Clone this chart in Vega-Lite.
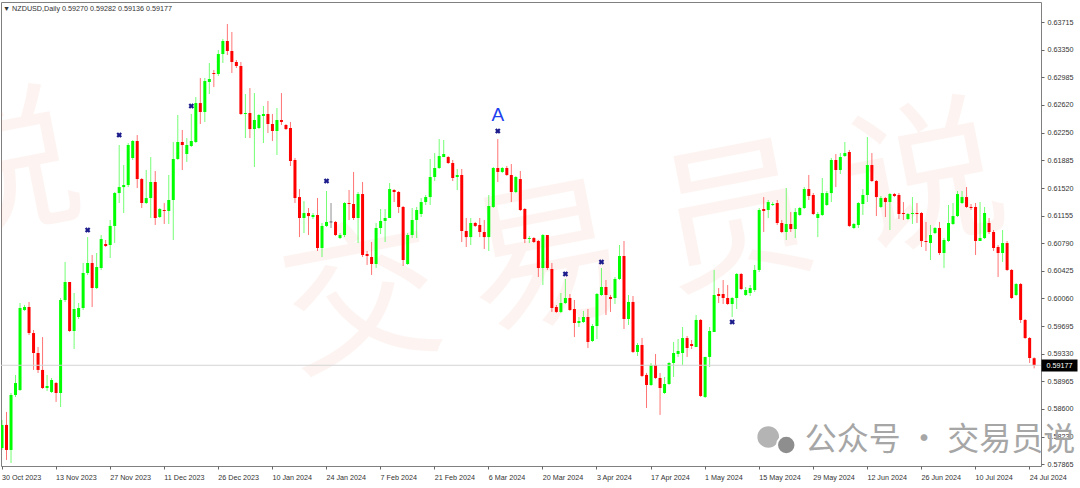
{
"$schema":"https://vega.github.io/schema/vega-lite/v6.json",
"width":1040,"height":464,
"autosize":{"type":"none"},
"padding":{"left":1,"top":2,"right":39,"bottom":22},
"background":"white",
"config":{"view":{"stroke":"#808080","strokeWidth":1},"font":"Liberation Sans"},
"title":{"text":"▼ NZDUSD,Daily  0.59270 0.59282 0.59136 0.59177","anchor":"start","frame":"group","offset":-10,"fontSize":7.2,"fontWeight":"normal","color":"#333333","font":"Liberation Sans","dx":2},
"datasets":{
"k":[
{"d":"2023-10-30","o":0.58083,"h":0.58454,"l":0.58057,"c":0.58388},
{"d":"2023-10-31","o":0.58388,"h":0.58560,"l":0.57925,"c":0.58057},
{"d":"2023-11-01","o":0.58057,"h":0.58810,"l":0.57885,"c":0.58784},
{"d":"2023-11-02","o":0.58784,"h":0.59049,"l":0.58757,"c":0.58942},
{"d":"2023-11-03","o":0.58850,"h":0.60000,"l":0.58837,"c":0.59934},
{"d":"2023-11-05","o":0.59908,"h":0.59974,"l":0.59895,"c":0.59947},
{"d":"2023-11-06","o":0.59947,"h":0.60014,"l":0.59577,"c":0.59603},
{"d":"2023-11-07","o":0.59603,"h":0.59643,"l":0.59115,"c":0.59339},
{"d":"2023-11-08","o":0.59339,"h":0.59418,"l":0.59075,"c":0.59115},
{"d":"2023-11-09","o":0.59115,"h":0.59550,"l":0.58863,"c":0.58876},
{"d":"2023-11-10","o":0.58876,"h":0.59049,"l":0.58837,"c":0.58903},
{"d":"2023-11-12","o":0.58824,"h":0.59009,"l":0.58810,"c":0.58982},
{"d":"2023-11-13","o":0.58942,"h":0.58956,"l":0.58692,"c":0.58810},
{"d":"2023-11-14","o":0.58810,"h":0.60066,"l":0.58625,"c":0.60040},
{"d":"2023-11-15","o":0.60040,"h":0.60543,"l":0.60014,"c":0.60278},
{"d":"2023-11-16","o":0.60278,"h":0.60278,"l":0.59617,"c":0.59630},
{"d":"2023-11-17","o":0.59630,"h":0.60132,"l":0.59392,"c":0.59921},
{"d":"2023-11-19","o":0.59815,"h":0.60000,"l":0.59789,"c":0.59934},
{"d":"2023-11-20","o":0.59934,"h":0.60529,"l":0.59908,"c":0.60397},
{"d":"2023-11-21","o":0.60397,"h":0.60872,"l":0.60371,"c":0.60529},
{"d":"2023-11-22","o":0.60529,"h":0.60635,"l":0.59947,"c":0.60198},
{"d":"2023-11-23","o":0.60198,"h":0.60661,"l":0.60185,"c":0.60476},
{"d":"2023-11-24","o":0.60463,"h":0.60899,"l":0.60437,"c":0.60846},
{"d":"2023-11-26","o":0.60780,"h":0.60833,"l":0.60741,"c":0.60754},
{"d":"2023-11-27","o":0.60767,"h":0.61098,"l":0.60595,"c":0.61019},
{"d":"2023-11-28","o":0.61019,"h":0.61468,"l":0.60793,"c":0.61454},
{"d":"2023-11-29","o":0.61454,"h":0.62089,"l":0.61322,"c":0.61533},
{"d":"2023-11-30","o":0.61533,"h":0.61825,"l":0.61190,"c":0.61560},
{"d":"2023-12-01","o":0.61560,"h":0.62115,"l":0.61533,"c":0.62089},
{"d":"2023-12-03","o":0.61917,"h":0.62155,"l":0.61891,"c":0.62142},
{"d":"2023-12-04","o":0.62142,"h":0.62221,"l":0.61520,"c":0.61639},
{"d":"2023-12-05","o":0.61639,"h":0.61653,"l":0.61256,"c":0.61322},
{"d":"2023-12-06","o":0.61322,"h":0.61759,"l":0.61309,"c":0.61388},
{"d":"2023-12-07","o":0.61388,"h":0.61930,"l":0.61124,"c":0.61600},
{"d":"2023-12-08","o":0.61600,"h":0.61746,"l":0.61032,"c":0.61124},
{"d":"2023-12-10","o":0.61137,"h":0.61256,"l":0.61124,"c":0.61243},
{"d":"2023-12-11","o":0.61230,"h":0.61322,"l":0.61045,"c":0.61217},
{"d":"2023-12-12","o":0.61217,"h":0.61693,"l":0.61045,"c":0.61362},
{"d":"2023-12-13","o":0.61362,"h":0.62129,"l":0.60833,"c":0.61904},
{"d":"2023-12-14","o":0.61904,"h":0.62486,"l":0.61891,"c":0.62129},
{"d":"2023-12-15","o":0.62129,"h":0.62287,"l":0.61759,"c":0.62089},
{"d":"2023-12-17","o":0.61970,"h":0.62181,"l":0.61865,"c":0.62089},
{"d":"2023-12-18","o":0.62076,"h":0.62499,"l":0.62062,"c":0.62142},
{"d":"2023-12-19","o":0.62129,"h":0.62723,"l":0.62115,"c":0.62644},
{"d":"2023-12-20","o":0.62644,"h":0.62975,"l":0.62367,"c":0.62526},
{"d":"2023-12-21","o":0.62526,"h":0.62975,"l":0.62394,"c":0.62935},
{"d":"2023-12-22","o":0.62922,"h":0.63173,"l":0.62763,"c":0.62962},
{"d":"2023-12-24","o":0.63041,"h":0.63081,"l":0.62855,"c":0.63028},
{"d":"2023-12-26","o":0.63028,"h":0.63345,"l":0.63002,"c":0.63292},
{"d":"2023-12-27","o":0.63292,"h":0.63490,"l":0.63173,"c":0.63464},
{"d":"2023-12-28","o":0.63464,"h":0.63689,"l":0.63279,"c":0.63332},
{"d":"2023-12-29","o":0.63332,"h":0.63583,"l":0.63041,"c":0.63187},
{"d":"2023-12-31","o":0.63187,"h":0.63213,"l":0.63107,"c":0.63134},
{"d":"2024-01-02","o":0.63134,"h":0.63187,"l":0.62486,"c":0.62499},
{"d":"2024-01-03","o":0.62499,"h":0.62763,"l":0.62181,"c":0.62512},
{"d":"2024-01-04","o":0.62512,"h":0.62842,"l":0.62181,"c":0.62300},
{"d":"2024-01-05","o":0.62300,"h":0.62776,"l":0.61798,"c":0.62420},
{"d":"2024-01-07","o":0.62314,"h":0.62499,"l":0.62300,"c":0.62486},
{"d":"2024-01-08","o":0.62473,"h":0.62605,"l":0.62115,"c":0.62499},
{"d":"2024-01-09","o":0.62499,"h":0.62671,"l":0.62247,"c":0.62367},
{"d":"2024-01-10","o":0.62367,"h":0.62499,"l":0.62142,"c":0.62274},
{"d":"2024-01-11","o":0.62274,"h":0.62579,"l":0.61957,"c":0.62420},
{"d":"2024-01-12","o":0.62420,"h":0.62776,"l":0.62354,"c":0.62394},
{"d":"2024-01-14","o":0.62354,"h":0.62367,"l":0.62287,"c":0.62300},
{"d":"2024-01-15","o":0.62314,"h":0.62394,"l":0.61812,"c":0.61878},
{"d":"2024-01-16","o":0.61891,"h":0.61917,"l":0.61322,"c":0.61388},
{"d":"2024-01-17","o":0.61401,"h":0.61507,"l":0.60872,"c":0.61124},
{"d":"2024-01-18","o":0.61124,"h":0.61348,"l":0.60925,"c":0.61190},
{"d":"2024-01-19","o":0.61190,"h":0.61256,"l":0.60899,"c":0.61150},
{"d":"2024-01-21","o":0.61137,"h":0.61190,"l":0.61111,"c":0.61164},
{"d":"2024-01-22","o":0.61164,"h":0.61388,"l":0.60688,"c":0.60727},
{"d":"2024-01-23","o":0.60727,"h":0.61058,"l":0.60608,"c":0.61019},
{"d":"2024-01-24","o":0.61019,"h":0.61481,"l":0.61005,"c":0.61072},
{"d":"2024-01-25","o":0.61072,"h":0.61322,"l":0.60992,"c":0.61072},
{"d":"2024-01-26","o":0.61072,"h":0.61085,"l":0.60886,"c":0.60899},
{"d":"2024-01-28","o":0.60859,"h":0.60925,"l":0.60846,"c":0.60899},
{"d":"2024-01-29","o":0.60899,"h":0.61335,"l":0.60872,"c":0.61322},
{"d":"2024-01-30","o":0.61322,"h":0.61494,"l":0.61098,"c":0.61309},
{"d":"2024-01-31","o":0.61309,"h":0.61733,"l":0.61098,"c":0.61124},
{"d":"2024-02-01","o":0.61124,"h":0.61468,"l":0.60793,"c":0.61441},
{"d":"2024-02-02","o":0.61441,"h":0.61600,"l":0.60608,"c":0.60635},
{"d":"2024-02-04","o":0.60648,"h":0.60688,"l":0.60503,"c":0.60622},
{"d":"2024-02-05","o":0.60608,"h":0.60807,"l":0.60371,"c":0.60516},
{"d":"2024-02-06","o":0.60516,"h":0.61058,"l":0.60463,"c":0.60992},
{"d":"2024-02-07","o":0.60992,"h":0.61243,"l":0.60912,"c":0.61085},
{"d":"2024-02-08","o":0.61085,"h":0.61243,"l":0.60807,"c":0.61124},
{"d":"2024-02-09","o":0.61124,"h":0.61586,"l":0.61124,"c":0.61507},
{"d":"2024-02-11","o":0.61494,"h":0.61507,"l":0.61335,"c":0.61468},
{"d":"2024-02-12","o":0.61468,"h":0.61481,"l":0.61190,"c":0.61270},
{"d":"2024-02-13","o":0.61270,"h":0.61283,"l":0.60490,"c":0.60569},
{"d":"2024-02-14","o":0.60516,"h":0.60925,"l":0.60503,"c":0.60899},
{"d":"2024-02-15","o":0.60899,"h":0.61256,"l":0.60859,"c":0.61098},
{"d":"2024-02-16","o":0.61098,"h":0.61270,"l":0.60859,"c":0.61230},
{"d":"2024-02-18","o":0.61177,"h":0.61388,"l":0.61137,"c":0.61335},
{"d":"2024-02-19","o":0.61335,"h":0.61428,"l":0.61296,"c":0.61401},
{"d":"2024-02-20","o":0.61401,"h":0.61904,"l":0.61296,"c":0.61666},
{"d":"2024-02-21","o":0.61666,"h":0.61983,"l":0.61613,"c":0.61785},
{"d":"2024-02-22","o":0.61785,"h":0.62168,"l":0.61772,"c":0.61944},
{"d":"2024-02-23","o":0.61930,"h":0.62155,"l":0.61930,"c":0.61970},
{"d":"2024-02-25","o":0.61930,"h":0.61944,"l":0.61838,"c":0.61851},
{"d":"2024-02-26","o":0.61851,"h":0.61891,"l":0.61613,"c":0.61653},
{"d":"2024-02-27","o":0.61666,"h":0.61772,"l":0.61494,"c":0.61693},
{"d":"2024-02-28","o":0.61693,"h":0.61772,"l":0.60807,"c":0.60952},
{"d":"2024-02-29","o":0.60952,"h":0.61124,"l":0.60741,"c":0.60872},
{"d":"2024-03-01","o":0.60872,"h":0.61124,"l":0.60767,"c":0.61058},
{"d":"2024-03-03","o":0.61058,"h":0.61072,"l":0.61005,"c":0.61019},
{"d":"2024-03-04","o":0.61032,"h":0.61124,"l":0.60872,"c":0.60939},
{"d":"2024-03-05","o":0.60939,"h":0.61098,"l":0.60714,"c":0.60872},
{"d":"2024-03-06","o":0.60872,"h":0.61428,"l":0.60688,"c":0.61283},
{"d":"2024-03-07","o":0.61270,"h":0.61798,"l":0.61256,"c":0.61785},
{"d":"2024-03-08","o":0.61785,"h":0.62168,"l":0.61600,"c":0.61733},
{"d":"2024-03-10","o":0.61733,"h":0.61798,"l":0.61719,"c":0.61785},
{"d":"2024-03-11","o":0.61785,"h":0.61812,"l":0.61680,"c":0.61693},
{"d":"2024-03-12","o":0.61693,"h":0.61838,"l":0.61335,"c":0.61468},
{"d":"2024-03-13","o":0.61468,"h":0.61680,"l":0.61454,"c":0.61666},
{"d":"2024-03-14","o":0.61639,"h":0.61746,"l":0.61217,"c":0.61230},
{"d":"2024-03-15","o":0.61243,"h":0.61256,"l":0.60793,"c":0.60846},
{"d":"2024-03-17","o":0.60846,"h":0.60886,"l":0.60793,"c":0.60859},
{"d":"2024-03-18","o":0.60859,"h":0.60872,"l":0.60793,"c":0.60807},
{"d":"2024-03-19","o":0.60820,"h":0.60833,"l":0.60344,"c":0.60463},
{"d":"2024-03-20","o":0.60463,"h":0.60912,"l":0.60238,"c":0.60899},
{"d":"2024-03-21","o":0.60899,"h":0.60899,"l":0.60437,"c":0.60463},
{"d":"2024-03-22","o":0.60450,"h":0.60529,"l":0.59882,"c":0.59934},
{"d":"2024-03-24","o":0.59947,"h":0.59974,"l":0.59868,"c":0.59882},
{"d":"2024-03-25","o":0.59882,"h":0.60132,"l":0.59868,"c":0.60000},
{"d":"2024-03-26","o":0.60000,"h":0.60318,"l":0.59987,"c":0.60066},
{"d":"2024-03-27","o":0.60066,"h":0.60119,"l":0.59895,"c":0.59908},
{"d":"2024-03-28","o":0.59921,"h":0.60040,"l":0.59550,"c":0.59736},
{"d":"2024-03-29","o":0.59736,"h":0.59815,"l":0.59683,"c":0.59762},
{"d":"2024-03-31","o":0.59749,"h":0.59895,"l":0.59736,"c":0.59815},
{"d":"2024-04-01","o":0.59815,"h":0.59921,"l":0.59405,"c":0.59485},
{"d":"2024-04-02","o":0.59498,"h":0.59723,"l":0.59485,"c":0.59696},
{"d":"2024-04-03","o":0.59696,"h":0.60132,"l":0.59524,"c":0.60119},
{"d":"2024-04-04","o":0.60106,"h":0.60463,"l":0.60093,"c":0.60212},
{"d":"2024-04-05","o":0.60212,"h":0.60304,"l":0.59842,"c":0.60106},
{"d":"2024-04-07","o":0.60079,"h":0.60106,"l":0.59882,"c":0.60053},
{"d":"2024-04-08","o":0.60066,"h":0.60344,"l":0.59987,"c":0.60318},
{"d":"2024-04-09","o":0.60318,"h":0.60767,"l":0.60304,"c":0.60622},
{"d":"2024-04-10","o":0.60622,"h":0.60820,"l":0.59656,"c":0.59789},
{"d":"2024-04-11","o":0.59789,"h":0.60106,"l":0.59709,"c":0.60014},
{"d":"2024-04-12","o":0.60014,"h":0.60093,"l":0.59339,"c":0.59353},
{"d":"2024-04-14","o":0.59353,"h":0.59471,"l":0.59300,"c":0.59445},
{"d":"2024-04-15","o":0.59445,"h":0.59537,"l":0.59022,"c":0.59036},
{"d":"2024-04-16","o":0.59049,"h":0.59075,"l":0.58612,"c":0.58916},
{"d":"2024-04-17","o":0.58916,"h":0.59207,"l":0.58903,"c":0.59181},
{"d":"2024-04-18","o":0.59181,"h":0.59326,"l":0.58995,"c":0.59009},
{"d":"2024-04-19","o":0.59009,"h":0.59075,"l":0.58520,"c":0.58876},
{"d":"2024-04-21","o":0.58810,"h":0.59022,"l":0.58797,"c":0.58929},
{"d":"2024-04-22","o":0.58929,"h":0.59221,"l":0.58916,"c":0.59207},
{"d":"2024-04-23","o":0.59207,"h":0.59485,"l":0.59022,"c":0.59339},
{"d":"2024-04-24","o":0.59326,"h":0.59524,"l":0.59287,"c":0.59366},
{"d":"2024-04-25","o":0.59339,"h":0.59683,"l":0.59181,"c":0.59537},
{"d":"2024-04-26","o":0.59537,"h":0.59564,"l":0.59287,"c":0.59405},
{"d":"2024-04-28","o":0.59458,"h":0.59511,"l":0.59392,"c":0.59432},
{"d":"2024-04-29","o":0.59418,"h":0.59842,"l":0.59418,"c":0.59776},
{"d":"2024-04-30","o":0.59776,"h":0.59789,"l":0.58757,"c":0.58771},
{"d":"2024-05-01","o":0.58757,"h":0.59287,"l":0.58744,"c":0.59287},
{"d":"2024-05-02","o":0.59287,"h":0.59683,"l":0.59154,"c":0.59630},
{"d":"2024-05-03","o":0.59617,"h":0.60437,"l":0.59617,"c":0.60106},
{"d":"2024-05-05","o":0.60119,"h":0.60198,"l":0.60000,"c":0.60093},
{"d":"2024-05-06","o":0.60119,"h":0.60304,"l":0.59987,"c":0.60066},
{"d":"2024-05-07","o":0.60066,"h":0.60238,"l":0.59974,"c":0.59987},
{"d":"2024-05-08","o":0.59987,"h":0.60079,"l":0.59815,"c":0.60066},
{"d":"2024-05-09","o":0.60066,"h":0.60397,"l":0.59921,"c":0.60384},
{"d":"2024-05-10","o":0.60384,"h":0.60397,"l":0.60172,"c":0.60185},
{"d":"2024-05-12","o":0.60106,"h":0.60212,"l":0.60093,"c":0.60172},
{"d":"2024-05-13","o":0.60132,"h":0.60238,"l":0.60093,"c":0.60198},
{"d":"2024-05-14","o":0.60172,"h":0.60503,"l":0.60146,"c":0.60437},
{"d":"2024-05-15","o":0.60437,"h":0.61256,"l":0.60410,"c":0.61230},
{"d":"2024-05-16","o":0.61243,"h":0.61401,"l":0.60939,"c":0.61217},
{"d":"2024-05-17","o":0.61230,"h":0.61362,"l":0.61124,"c":0.61335},
{"d":"2024-05-19","o":0.61296,"h":0.61335,"l":0.61283,"c":0.61309},
{"d":"2024-05-20","o":0.61322,"h":0.61362,"l":0.61032,"c":0.61058},
{"d":"2024-05-21","o":0.61058,"h":0.61098,"l":0.60925,"c":0.60939},
{"d":"2024-05-22","o":0.60939,"h":0.61520,"l":0.60833,"c":0.61045},
{"d":"2024-05-23","o":0.61045,"h":0.61203,"l":0.60939,"c":0.60978},
{"d":"2024-05-24","o":0.60978,"h":0.61256,"l":0.60859,"c":0.61203},
{"d":"2024-05-26","o":0.61164,"h":0.61270,"l":0.61150,"c":0.61256},
{"d":"2024-05-27","o":0.61256,"h":0.61533,"l":0.61243,"c":0.61507},
{"d":"2024-05-28","o":0.61507,"h":0.61693,"l":0.61362,"c":0.61415},
{"d":"2024-05-29","o":0.61428,"h":0.61454,"l":0.61164,"c":0.61177},
{"d":"2024-05-30","o":0.61124,"h":0.61203,"l":0.60872,"c":0.61177},
{"d":"2024-05-31","o":0.61164,"h":0.61653,"l":0.61150,"c":0.61454},
{"d":"2024-06-02","o":0.61296,"h":0.61481,"l":0.61283,"c":0.61454},
{"d":"2024-06-03","o":0.61454,"h":0.61917,"l":0.61335,"c":0.61891},
{"d":"2024-06-04","o":0.61891,"h":0.61970,"l":0.61533,"c":0.61759},
{"d":"2024-06-05","o":0.61759,"h":0.61983,"l":0.61706,"c":0.61930},
{"d":"2024-06-06","o":0.61944,"h":0.62129,"l":0.61930,"c":0.61983},
{"d":"2024-06-07","o":0.61997,"h":0.62023,"l":0.61005,"c":0.61019},
{"d":"2024-06-09","o":0.60992,"h":0.61058,"l":0.60978,"c":0.61045},
{"d":"2024-06-10","o":0.61032,"h":0.61335,"l":0.60992,"c":0.61322},
{"d":"2024-06-11","o":0.61309,"h":0.61507,"l":0.61164,"c":0.61428},
{"d":"2024-06-12","o":0.61428,"h":0.62194,"l":0.61335,"c":0.61825},
{"d":"2024-06-13","o":0.61825,"h":0.61983,"l":0.61600,"c":0.61613},
{"d":"2024-06-14","o":0.61613,"h":0.61626,"l":0.61150,"c":0.61401},
{"d":"2024-06-16","o":0.61270,"h":0.61415,"l":0.61256,"c":0.61388},
{"d":"2024-06-17","o":0.61388,"h":0.61401,"l":0.61137,"c":0.61335},
{"d":"2024-06-18","o":0.61335,"h":0.61454,"l":0.60965,"c":0.61441},
{"d":"2024-06-19","o":0.61441,"h":0.61454,"l":0.61401,"c":0.61415},
{"d":"2024-06-20","o":0.61428,"h":0.61454,"l":0.61111,"c":0.61177},
{"d":"2024-06-21","o":0.61190,"h":0.61335,"l":0.61098,"c":0.61177},
{"d":"2024-06-23","o":0.61111,"h":0.61190,"l":0.61098,"c":0.61177},
{"d":"2024-06-24","o":0.61177,"h":0.61401,"l":0.61045,"c":0.61190},
{"d":"2024-06-25","o":0.61190,"h":0.61322,"l":0.61058,"c":0.61177},
{"d":"2024-06-26","o":0.61190,"h":0.61203,"l":0.60741,"c":0.60820},
{"d":"2024-06-27","o":0.60820,"h":0.61072,"l":0.60688,"c":0.60807},
{"d":"2024-06-28","o":0.60793,"h":0.61032,"l":0.60569,"c":0.60899},
{"d":"2024-06-30","o":0.60925,"h":0.61005,"l":0.60912,"c":0.60992},
{"d":"2024-07-01","o":0.60992,"h":0.61072,"l":0.60635,"c":0.60661},
{"d":"2024-07-02","o":0.60661,"h":0.60859,"l":0.60463,"c":0.60833},
{"d":"2024-07-03","o":0.60820,"h":0.61296,"l":0.60807,"c":0.61058},
{"d":"2024-07-04","o":0.61045,"h":0.61322,"l":0.61032,"c":0.61150},
{"d":"2024-07-05","o":0.61150,"h":0.61481,"l":0.61137,"c":0.61441},
{"d":"2024-07-07","o":0.61322,"h":0.61481,"l":0.61309,"c":0.61401},
{"d":"2024-07-08","o":0.61401,"h":0.61533,"l":0.61256,"c":0.61270},
{"d":"2024-07-09","o":0.61270,"h":0.61309,"l":0.61230,"c":0.61256},
{"d":"2024-07-10","o":0.61270,"h":0.61322,"l":0.60635,"c":0.60820},
{"d":"2024-07-11","o":0.60820,"h":0.61335,"l":0.60820,"c":0.60859},
{"d":"2024-07-12","o":0.60859,"h":0.61270,"l":0.60846,"c":0.61190},
{"d":"2024-07-14","o":0.61058,"h":0.61124,"l":0.60912,"c":0.60939},
{"d":"2024-07-15","o":0.60939,"h":0.60965,"l":0.60688,"c":0.60727},
{"d":"2024-07-16","o":0.60741,"h":0.60767,"l":0.60344,"c":0.60661},
{"d":"2024-07-17","o":0.60661,"h":0.60965,"l":0.60543,"c":0.60793},
{"d":"2024-07-18","o":0.60793,"h":0.60820,"l":0.60424,"c":0.60437},
{"d":"2024-07-19","o":0.60437,"h":0.60450,"l":0.60053,"c":0.60066},
{"d":"2024-07-21","o":0.60106,"h":0.60265,"l":0.60093,"c":0.60251},
{"d":"2024-07-22","o":0.60251,"h":0.60265,"l":0.59736,"c":0.59776},
{"d":"2024-07-23","o":0.59776,"h":0.59789,"l":0.59524,"c":0.59537},
{"d":"2024-07-24","o":0.59537,"h":0.59550,"l":0.59207,"c":0.59273},
{"d":"2024-07-25","o":0.59270,"h":0.59282,"l":0.59136,"c":0.59177}
],
"m":[
{"d":"2023-11-21","p":0.60965},
{"d":"2023-11-29","p":0.62221},
{"d":"2023-12-18","p":0.62605},
{"d":"2024-01-24","p":0.61613},
{"d":"2024-03-08","p":0.62274},
{"d":"2024-03-26","p":0.60384},
{"d":"2024-04-04","p":0.60542},
{"d":"2024-05-08","p":0.59749}
],
"wm":[
{"d":"2023-10-30","p":0.61690,"t":"说"},
{"d":"2024-02-02","p":0.59960,"t":"交"},
{"d":"2024-03-21","p":0.60500,"t":"易"},
{"d":"2024-05-09","p":0.61045,"t":"员"},
{"d":"2024-06-27","p":0.61547,"t":"说"}
]
},
"layer":[
{"layer":[
{"data":{"name":"wm"},"mark":{"type":"text","clip":true,"fontSize":158,"font":"Noto Sans CJK SC","fontWeight":"normal","angle":-11,"align":"center","baseline":"middle","color":"#f07050","opacity":0.075},
 "encoding":{"x":{"field":"d","type":"ordinal","title":null},"y":{"field":"p","type":"quantitative","title":null},"text":{"field":"t"}}},
{"data":{"name":"k"},"mark":{"type":"rule","clip":true,"strokeWidth":1,"opacity":0.55},
 "encoding":{
  "x":{"field":"d","type":"ordinal","title":null,"scale":{"type":"band","paddingInner":0,"paddingOuter":0,"range":[-1.25,1035.4]}},
  "y":{"field":"l","type":"quantitative","title":null,"scale":{"domain":[0.57845,0.6398],"zero":false,"nice":false}},
  "y2":{"field":"h"},
  "color":{"condition":[{"test":"datum.c>datum.o","value":"#00ff00"},{"test":"datum.c<datum.o","value":"#ff0000"}],"value":"#333333"}}},
{"data":{"name":"k"},"mark":{"type":"bar","clip":true,"size":3},
 "encoding":{
  "x":{"field":"d","type":"ordinal","title":null,"scale":{"type":"band","paddingInner":0,"paddingOuter":0,"range":[-1.25,1035.4]},
   "axis":{"values":["2023-10-30","2023-11-13","2023-11-27","2023-12-11","2023-12-26","2024-01-10","2024-01-24","2024-02-07","2024-02-21","2024-03-06","2024-03-20","2024-04-03","2024-04-17","2024-05-01","2024-05-15","2024-05-29","2024-06-12","2024-06-26","2024-07-10","2024-07-24"],
    "labelExpr":"utcFormat(toDate(datum.value),'%-d %b %Y')","labelAngle":0,"labelAlign":"left","labelBaseline":"top","labelPadding":4,"tickSize":3,"tickColor":"#666666","domain":false,"grid":false,"labelOverlap":false,"labelFlush":false,"labelBound":false,"labelColor":"#333333","labelFont":"Liberation Sans","labelFontSize":7.2}},
  "y":{"field":"o","type":"quantitative","title":null,"scale":{"domain":[0.57845,0.6398],"zero":false,"nice":false},
   "axis":{"orient":"right","values":[0.57865,0.5823,0.586,0.58965,0.5933,0.59695,0.6006,0.60425,0.6079,0.61155,0.6152,0.61885,0.6225,0.6262,0.62985,0.6335,0.63715],"tickCount":40,"format":".5f","tickSize":3,"tickColor":"#666666","labelPadding":3,"domain":false,"grid":false,"labelOverlap":false,"labelBound":false,"labelFlush":false,"labelColor":"#333333","labelFont":"Liberation Sans","labelFontSize":7.2}},
  "y2":{"field":"c"},
  "color":{"condition":[{"test":"datum.c>datum.o","value":"#00ff00"},{"test":"datum.c<datum.o","value":"#ff0000"}],"value":"#333333"}}},
{"data":{"name":"k"},"transform":[{"filter":"datum.o==datum.c"}],"mark":{"type":"tick","clip":true,"orient":"horizontal","size":3,"thickness":1,"color":"#333333"},
 "encoding":{"x":{"field":"d","type":"ordinal","title":null},"y":{"field":"o","type":"quantitative","title":null}}},
{"data":{"name":"m"},"mark":{"type":"point","shape":"cross","angle":45,"filled":true,"size":32,"color":"#1c1c8c","opacity":1},
 "encoding":{"x":{"field":"d","type":"ordinal","title":null},"y":{"field":"p","type":"quantitative","title":null}}},
{"data":{"values":[{"d":"2024-03-08","p":0.62486,"t":"A"}]},"mark":{"type":"text","fontSize":19,"font":"Liberation Sans","color":"#2040f0","align":"center","baseline":"middle"},
 "encoding":{"x":{"field":"d","type":"ordinal","title":null},"y":{"field":"p","type":"quantitative","title":null},"text":{"field":"t"}}},
{"data":{"values":[{"d":"2024-05-17","p":0.58229,"s":560,"g":"#b4b4b4"},{"d":"2024-05-22","p":0.58123,"s":340,"g":"#8e8e8e"}]},"mark":{"type":"point","shape":"circle","filled":true,"opacity":1,"stroke":"white","strokeWidth":2},
 "encoding":{"x":{"field":"d","type":"ordinal","title":null},"y":{"field":"p","type":"quantitative","title":null},"size":{"field":"s","type":"quantitative","scale":null,"legend":null},"color":{"field":"g","type":"nominal","scale":null,"legend":null}}},
{"data":{"values":[{"d":"2024-07-25","p":0.58189,"t":"公众号 · 交易员说"}]},"mark":{"type":"text","fontSize":32,"font":"Noto Sans CJK SC","color":"#a6a6a6","align":"right","baseline":"middle","dx":41},
 "encoding":{"x":{"field":"d","type":"ordinal","title":null},"y":{"field":"p","type":"quantitative","title":null},"text":{"field":"t"}}}
]},
{"data":{"values":[{}]},"mark":{"type":"rule","color":"#d4d4d4","strokeWidth":1},
 "encoding":{"y":{"datum":0.59177,"type":"quantitative","title":null,"scale":{"domain":[0.57845,0.6398],"zero":false,"nice":false},
  "axis":{"orient":"right","values":[0.59177],"format":".5f","tickSize":36,"tickWidth":12,"tickColor":"#000000","labelColor":"#ffffff","labelPadding":-31,"domain":false,"grid":false,"labelFont":"Liberation Sans","labelFontSize":7.2}}}}
],
"resolve":{"axis":{"y":"independent"}}
}
